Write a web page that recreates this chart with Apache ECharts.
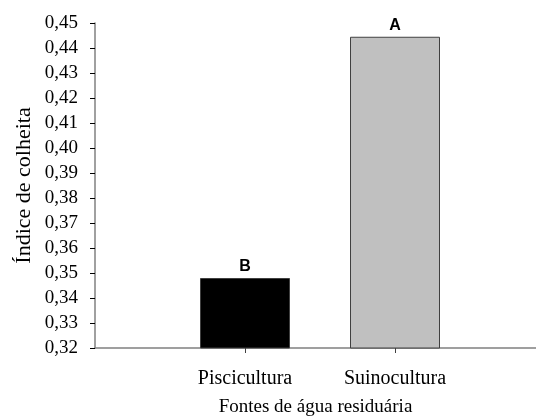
<!DOCTYPE html>
<html>
<head>
<meta charset="utf-8">
<script src="https://cdn.jsdelivr.net/npm/echarts@6/dist/echarts.min.js"></script>
<style>html,body{margin:0;padding:0;background:#fff;}#c{width:536px;height:416px;}</style>
</head>
<body>
<div id="c"></div>
<script>
var categories = ['Piscicultura', 'Suinocultura'];
var values = [0.348, 0.4445];
var letters = ['B', 'A'];
var barColors = ['#000000', '#c0c0c0'];
var yTicks = [0.32,0.33,0.34,0.35,0.36,0.37,0.38,0.39,0.40,0.41,0.42,0.43,0.44,0.45];

var chart = echarts.init(document.getElementById('c'));
var serif = '"Liberation Serif", "Times New Roman", serif';
chart.setOption({
  animation: false,
  grid: { left: 95, right: 0, top: 23, bottom: 68, containLabel: false, outerBoundsMode: 'none' },
  xAxis: {
    type: 'value', min: 0, max: 2.94,
    name: 'Fontes de água residuária', nameLocation: 'middle', nameGap: 50, nameMoveOverlap: false,
    nameTextStyle: { fontFamily: serif, fontSize: 19, color: '#000' },
    axisLine: { show: true, lineStyle: { color: '#808080', width: 1.5 } },
    axisTick: { show: true, customValues: [1, 2], length: 5, lineStyle: { color: '#404040' } },
    axisLabel: { customValues: [1, 2], formatter: function (v) { return categories[Math.round(v) - 1] || ''; },
      fontFamily: serif, fontSize: 20, color: '#000', margin: 21 },
    splitLine: { show: false }
  },
  yAxis: {
    type: 'value', min: yTicks[0], max: yTicks[yTicks.length - 1], interval: 0.01,
    name: 'Índice de colheita', nameLocation: 'middle', nameGap: 60, nameRotate: 90, nameMoveOverlap: false,
    nameTextStyle: { fontFamily: serif, fontSize: 22, color: '#000' },
    axisLine: { show: true, lineStyle: { color: '#808080', width: 1.5 } },
    axisTick: { show: true, length: 5, lineStyle: { color: '#000' } },
    axisLabel: { formatter: function (v) { return v.toFixed(2).replace('.', ','); },
      fontFamily: serif, fontSize: 19, color: '#000', margin: 17 },
    splitLine: { show: false }
  },
  series: [{
    type: 'bar',
    barWidth: 90,
    data: categories.map(function (c, i) {
      return { value: [i + 1, values[i]], itemStyle: { color: barColors[i], borderColor: '#404040', borderWidth: 1 } };
    }),
    label: {
      show: true, position: 'top', distance: 3,
      formatter: function (p) { return letters[p.dataIndex]; },
      fontFamily: '"Liberation Sans", Arial, sans-serif', fontWeight: 'bold', fontSize: 16, color: '#000'
    }
  }]
});
</script>
</body>
</html>
